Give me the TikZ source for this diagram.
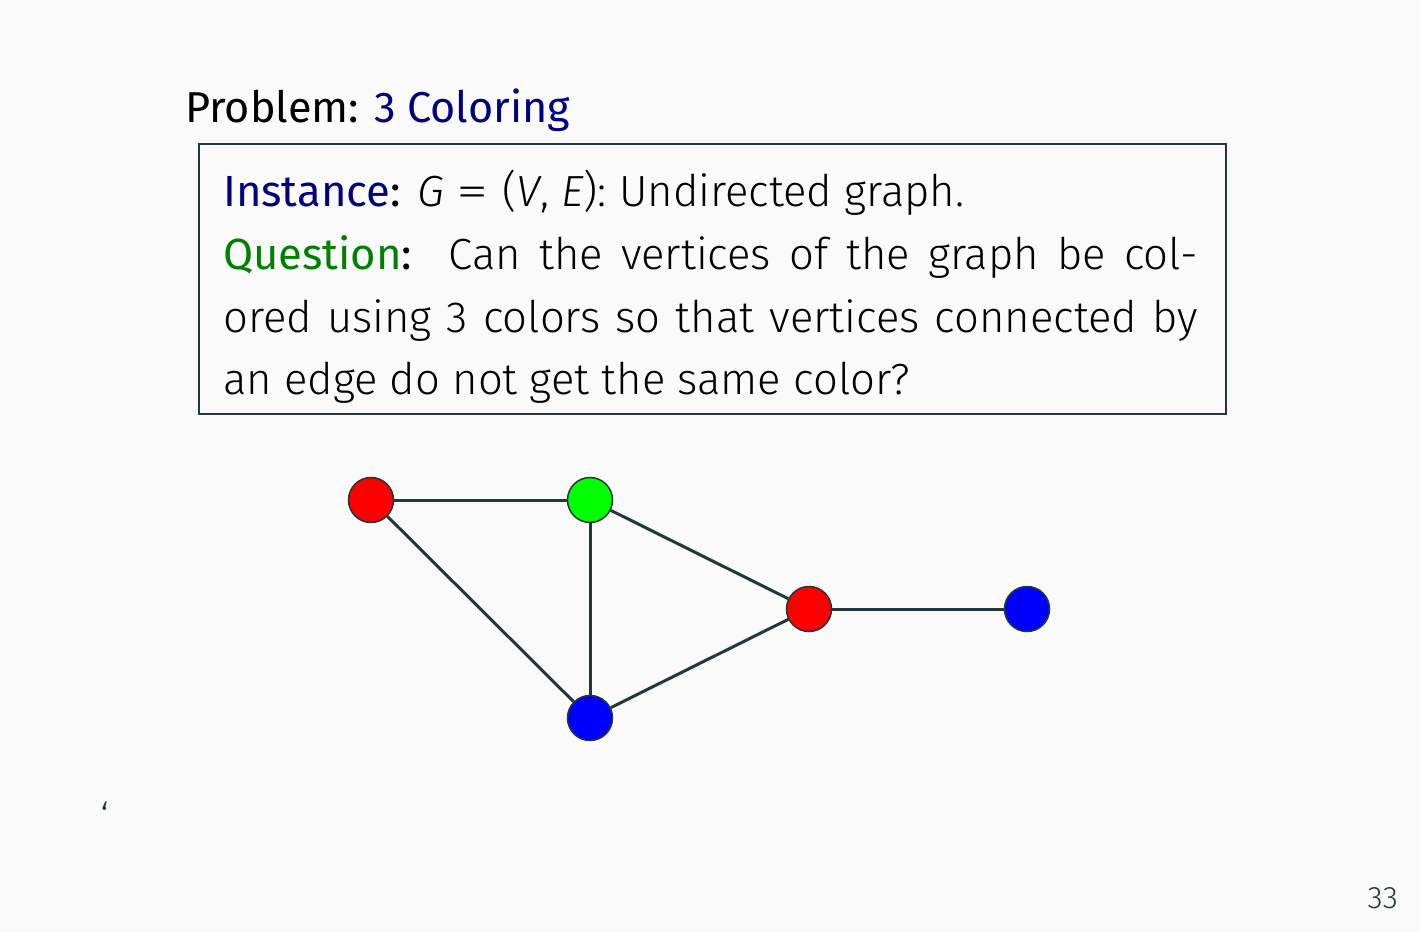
\documentclass[tikz,border=0pt]{standalone}
\usepackage{fontspec}
\setmainfont{Fira Sans}[UprightFont=* Light, ItalicFont=* Light Italic, BoldFont=*]
\definecolor{bgc}{HTML}{FAFAFA}
\definecolor{slate}{HTML}{23373B}
\definecolor{navy}{RGB}{0,0,128}
\definecolor{dgreen}{RGB}{0,128,0}
\tikzset{
  vtx/.style={circle, draw=slate, line width=1.5pt, minimum size=45pt, inner sep=0pt},
  edge/.style={draw=slate, line width=3pt},
  txt/.style={anchor=base west, inner sep=0pt, text=black},
  bodyfont/.style={font=\fontsize{43.6}{60}\selectfont}
}
\begin{document}
\begin{tikzpicture}[x=1pt,y=-1pt]
\fill[bgc] (0,0) rectangle (1420,932);
\useasboundingbox (0,0) rectangle (1420,932);
\node[txt, font=\fontsize{43.2}{60}\selectfont] (title) at (185,122) {\textbf{Problem: \textcolor{navy}{3 Coloring}}};
\node[draw=slate, line width=1.5pt, minimum width=1027pt, minimum height=270pt, anchor=north west, inner sep=0pt] (box) at (198,143) {};
\node[txt, bodyfont] (l1) at (223,206) {\textbf{\textcolor{navy}{Instance}:} \textit{G}\hspace{0.3em}\scalebox{1.5}[1]{=}\hspace{0.3em}(\textit{V}, \textit{E}): Undirected graph.};
\node[txt, bodyfont] (l2) at (223,269) {\makebox[975pt][s]{\textbf{\textcolor{dgreen}{Question}:}\ \ Can the vertices of the graph be col-}};
\node[txt, bodyfont] (l3) at (223,332) {\makebox[975pt][s]{ored using 3 colors so that vertices connected by}};
\node[txt, bodyfont] (l4) at (223,394) {an edge do not get the same color?};
\node[vtx, fill=red] (a) at (371,500) {};
\node[vtx, fill={rgb,255:red,0;green,255;blue,0}] (b) at (590,500) {};
\node[vtx, fill=red] (c) at (809,609) {};
\node[vtx, fill=blue] (d) at (1027,609) {};
\node[vtx, fill=blue] (e) at (590,718) {};
\draw[edge] (a) -- (b);
\draw[edge] (a) -- (e);
\draw[edge] (b) -- (e);
\draw[edge] (b) -- (c);
\draw[edge] (e) -- (c);
\draw[edge] (c) -- (d);
\node[txt, text=slate, font=\fontsize{40}{44}\selectfont] (mark) at (100,831) {‘};
\node[anchor=base east, inner sep=0pt, text=slate, font=\fontsize{31}{36}\selectfont] (page) at (1398,908) {33};
\end{tikzpicture}
\end{document}
